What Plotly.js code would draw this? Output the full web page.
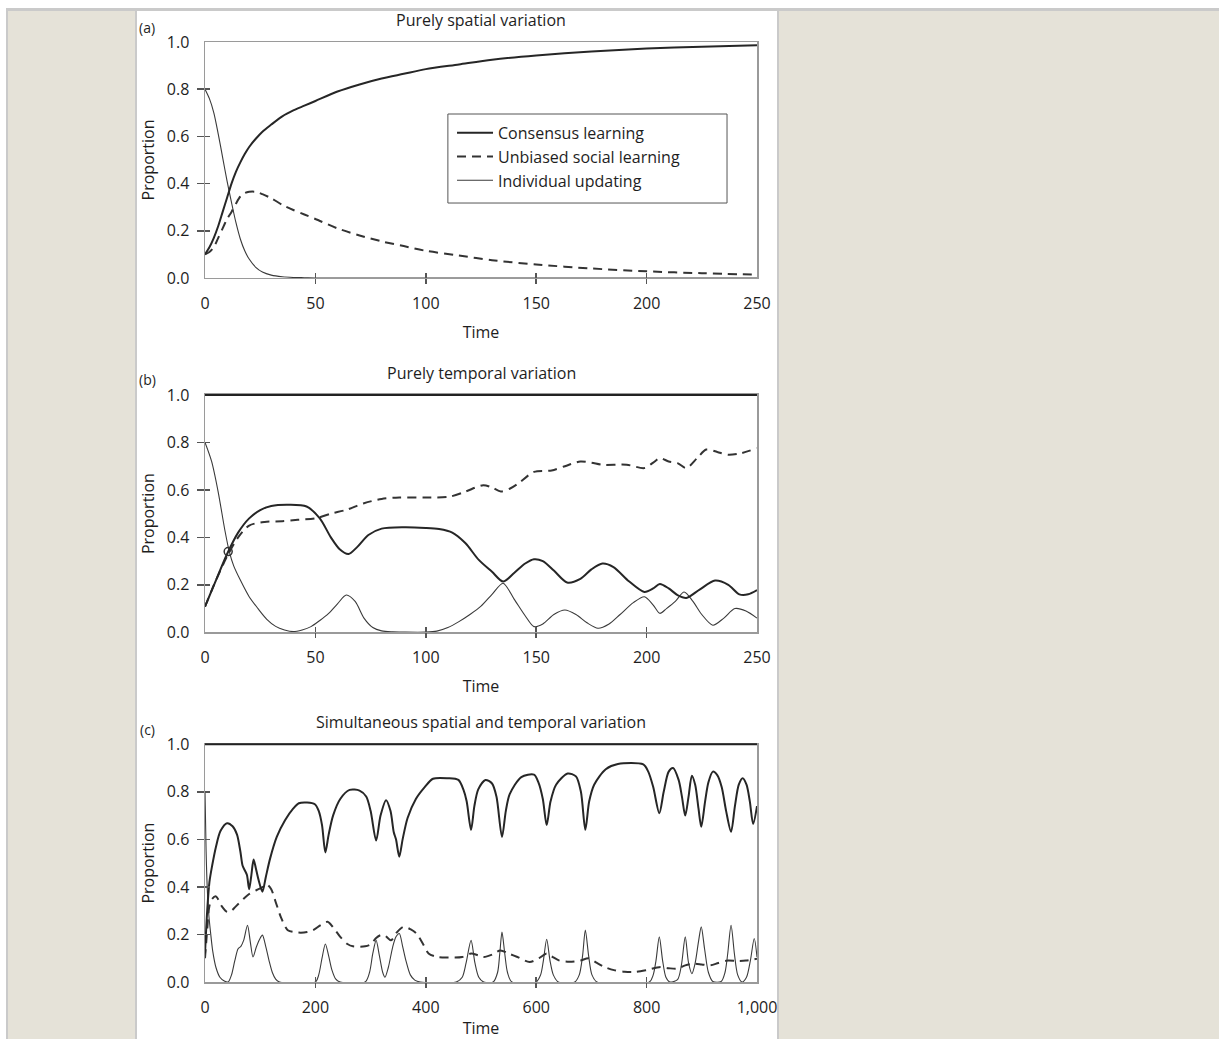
<!DOCTYPE html>
<html><head><meta charset="utf-8">
<script src="https://cdn.plot.ly/plotly-3.0.1.min.js"></script>
<style>
html,body{margin:0;padding:0;background:#fff;width:1219px;height:1039px;overflow:hidden;}
#bg{position:absolute;left:6px;top:8px;width:1213px;height:1031px;box-sizing:border-box;border-top:3px solid #cacaca;border-left:2px solid #cacaca;background:#e5e2d8;}
#panel{position:absolute;left:135px;top:11px;width:644px;height:1028px;box-sizing:border-box;border-left:2px solid #cacaca;border-right:2px solid #cacaca;background:#fff;}
#chart{position:absolute;left:137px;top:0px;width:700px;height:1039px;}
</style></head><body>
<div id="bg"></div><div id="panel"></div><div id="chart"></div>
<script>
// ---------- Data ----------
const seriesNames = ['Consensus learning', 'Unbiased social learning', 'Individual updating'];
const panelTitles = ['Purely spatial variation', 'Purely temporal variation', 'Simultaneous spatial and temporal variation'];
const panelLabels = ['(a)', '(b)', '(c)'];

// (a) Purely spatial variation
const tA = [0,2,4,6,8,10,12,14,16,18,20,23,26,30,35,40,45,50,60,70,80,90,100,115,130,150,175,200,225,250];
const consA = [0.10,0.13,0.17,0.22,0.28,0.34,0.40,0.45,0.49,0.525,0.555,0.59,0.62,0.65,0.685,0.71,0.73,0.75,0.79,0.82,0.845,0.865,0.885,0.905,0.925,0.943,0.96,0.972,0.98,0.986];
const unbA = [0.10,0.11,0.13,0.17,0.21,0.25,0.28,0.315,0.345,0.36,0.365,0.365,0.355,0.338,0.31,0.288,0.269,0.25,0.21,0.18,0.155,0.135,0.115,0.095,0.075,0.057,0.04,0.028,0.02,0.014];
const indA = [0.80,0.76,0.70,0.61,0.51,0.41,0.32,0.235,0.165,0.115,0.08,0.045,0.025,0.012,0.005,0.002,0.001,0,0,0,0,0,0,0,0,0,0,0,0,0];

// (b) Purely temporal variation
const tConsB = [0,5,10,15,20,25,30,38,46,52,57,61,65,69,74,80,90,100,106,112,118,124,130,135,140,145,149,153,158,164,170,175,180,185,192,199,203,206,210,214,218,224,231,237,242,246,250];
const consB = [0.108,0.22,0.33,0.42,0.48,0.515,0.532,0.537,0.53,0.48,0.40,0.35,0.33,0.36,0.41,0.437,0.443,0.44,0.435,0.42,0.375,0.305,0.255,0.214,0.25,0.29,0.308,0.30,0.26,0.21,0.225,0.265,0.29,0.275,0.215,0.17,0.185,0.204,0.185,0.157,0.145,0.18,0.218,0.20,0.16,0.16,0.178];
const tUnbB = [0,5,10,15,20,27,35,42,50,57,64,72,80,88,100,111,118,126,130,134,138,142,149,157,163,170,175,180,191,199,203,206,210,214,218,223,227,232,237,243,250];
const unbB = [0.108,0.22,0.32,0.40,0.45,0.465,0.468,0.474,0.48,0.50,0.516,0.544,0.562,0.568,0.568,0.572,0.593,0.62,0.61,0.593,0.605,0.628,0.676,0.682,0.70,0.72,0.715,0.706,0.706,0.692,0.715,0.734,0.72,0.713,0.692,0.735,0.77,0.76,0.748,0.755,0.776];
const tIndB = [0,3,6,9,11,13,16,20,24,28,32,36,40,44,48,52,56,60,64,68,72,76,80,85,90,100,105,110,115,120,125,130,135,140,145,149,153,158,163,168,173,178,183,188,194,199,203,206,209,213,217,221,225,230,235,240,245,250];
const indB = [0.80,0.72,0.59,0.43,0.34,0.28,0.22,0.15,0.10,0.055,0.025,0.01,0.003,0.01,0.024,0.05,0.08,0.12,0.157,0.13,0.06,0.02,0.006,0.002,0.001,0.001,0.005,0.02,0.045,0.075,0.11,0.16,0.207,0.14,0.07,0.024,0.035,0.075,0.094,0.075,0.04,0.017,0.035,0.075,0.125,0.15,0.115,0.08,0.1,0.13,0.17,0.13,0.075,0.03,0.06,0.10,0.09,0.06];
const markTB = [10.5];
const markVB = [0.34];

// (c) Simultaneous spatial and temporal variation
const tConsC = [0,4,8,13,20,28,40,50,58,64,68,72,76,80,84,88,92,97,104,110,118,130,145,160,170,185,199,206,212,218,224,232,245,262,280,292,300,310,318,328,336,342,346,352,358,367,382,398,413,440,459,468,474,482,488,495,508,520,528,538,545,552,573,596,604,612,619,626,636,657,672,681,689,696,705,726,748,794,803,812,823,831,840,848,858,864,870,876,882,888,894,899,906,912,920,928,936,944,953,960,967,974,981,987,993,1000];
const consC = [0.12,0.30,0.42,0.49,0.57,0.635,0.668,0.655,0.62,0.55,0.49,0.47,0.45,0.39,0.45,0.515,0.48,0.43,0.38,0.44,0.52,0.61,0.68,0.73,0.752,0.755,0.748,0.72,0.66,0.545,0.62,0.70,0.77,0.808,0.805,0.78,0.72,0.595,0.70,0.765,0.72,0.63,0.60,0.527,0.60,0.69,0.77,0.82,0.855,0.857,0.85,0.81,0.76,0.64,0.74,0.81,0.85,0.835,0.78,0.61,0.72,0.79,0.862,0.872,0.84,0.77,0.66,0.76,0.83,0.877,0.865,0.80,0.64,0.76,0.83,0.895,0.917,0.915,0.885,0.82,0.71,0.80,0.885,0.90,0.85,0.78,0.70,0.78,0.868,0.83,0.73,0.653,0.76,0.84,0.885,0.87,0.82,0.72,0.632,0.74,0.83,0.857,0.83,0.76,0.665,0.74];
const tUnbC = [0,4,8,13,20,30,40,48,55,70,80,93,105,112,120,127,138,150,169,185,196,210,222,232,245,258,268,290,300,310,318,326,337,348,360,372,383,395,405,421,440,466,482,495,505,520,535,550,566,588,605,619,630,642,660,680,695,710,725,741,760,779,800,825,840,855,870,885,900,916,930,947,965,980,1000];
const unbC = [0.10,0.22,0.32,0.35,0.36,0.32,0.295,0.30,0.316,0.35,0.37,0.386,0.40,0.41,0.39,0.344,0.27,0.218,0.208,0.21,0.218,0.24,0.253,0.23,0.19,0.16,0.15,0.15,0.158,0.185,0.197,0.195,0.176,0.21,0.232,0.222,0.204,0.16,0.12,0.105,0.103,0.105,0.12,0.112,0.105,0.115,0.133,0.12,0.105,0.084,0.10,0.12,0.105,0.09,0.085,0.09,0.10,0.08,0.062,0.05,0.043,0.042,0.05,0.063,0.058,0.056,0.07,0.077,0.074,0.07,0.08,0.09,0.088,0.09,0.098];
const tIndC = [0,2,4,7,10,14,20,27,35,42,48,54,60,65,70,77,82,87,93,99,104,110,116,122,128,135,200,206,212,218,224,230,237,245,290,298,304,310,316,322,326,332,340,346,352,358,364,372,380,390,455,466,473,482,489,496,505,522,530,534,538,543,548,556,600,608,613,619,625,631,640,670,678,684,689,695,701,710,805,812,817,823,829,835,842,856,863,870,876,882,888,894,899,905,912,920,935,942,947,953,959,965,973,981,988,995,1000];
const indC = [0.80,0.55,0.40,0.28,0.21,0.13,0.06,0.02,0.004,0,0.03,0.09,0.14,0.15,0.175,0.239,0.17,0.105,0.147,0.18,0.197,0.15,0.09,0.04,0.012,0,0,0.03,0.10,0.16,0.11,0.05,0.012,0,0,0.04,0.12,0.175,0.11,0.04,0.02,0.06,0.147,0.19,0.204,0.15,0.09,0.03,0.008,0,0,0.02,0.08,0.175,0.08,0.02,0,0,0.04,0.12,0.21,0.12,0.04,0,0,0.03,0.09,0.18,0.09,0.03,0,0,0.03,0.11,0.218,0.11,0.03,0,0,0.03,0.09,0.19,0.09,0.02,0,0.01,0.07,0.19,0.08,0.035,0.08,0.17,0.232,0.14,0.04,0.002,0.002,0.04,0.12,0.239,0.12,0.03,0,0.02,0.09,0.183,0.105];

const yTickVals = [0, 0.2, 0.4, 0.6, 0.8, 1.0];
const yInnerTicks = [0.2, 0.4, 0.6, 0.8];
const xTickValsAB = [0, 50, 100, 150, 200, 250];
const xInnerTicksAB = [50, 100, 150, 200];
const xTickValsC = [0, 200, 400, 600, 800, 1000];
const xTickTextC = ['0', '200', '400', '600', '800', '1,000'];
const xInnerTicksC = [200, 400, 600, 800];

// ---------- Styling ----------
const FONT = '"Open Sans", "Liberation Sans", sans-serif';
const TXT = '#1e1e1e';
const st = {
  cons: {color: '#262626', width: 2},
  unb: {color: '#333333', width: 2, dash: '9px,6px'},
  ind: {color: '#3a3a3a', width: 1.1}
};
function tr(x, y, name, s, xa, ya, show, rank) {
  return {type: 'scatter', mode: 'lines', x: x, y: y, name: name, xaxis: xa, yaxis: ya,
    showlegend: show, legendrank: rank, hoverinfo: 'skip',
    line: Object.assign({shape: 'spline', smoothing: 0.8}, s)};
}

const data = [
  tr(tA, indA, seriesNames[2], st.ind, 'x', 'y', true, 3),
  tr(tA, unbA, seriesNames[1], st.unb, 'x', 'y', true, 2),
  tr(tA, consA, seriesNames[0], st.cons, 'x', 'y', true, 1),
  tr(tIndB, indB, seriesNames[2], st.ind, 'x2', 'y2', false, 3),
  tr(tUnbB, unbB, seriesNames[1], st.unb, 'x2', 'y2', false, 2),
  tr(tConsB, consB, seriesNames[0], st.cons, 'x2', 'y2', false, 1),
  {type: 'scatter', mode: 'markers', x: markTB, y: markVB, xaxis: 'x2', yaxis: 'y2', showlegend: false, hoverinfo: 'skip',
    marker: {symbol: 'circle-open', size: 8, color: '#333', line: {width: 1.5, color: '#333'}}},
  tr(tIndC, indC, seriesNames[2], st.ind, 'x3', 'y3', false, 3),
  tr(tUnbC, unbC, seriesNames[1], st.unb, 'x3', 'y3', false, 2),
  tr(tConsC, consC, seriesNames[0], st.cons, 'x3', 'y3', false, 1)
];

const domains = [[0.749, 1], [0.372, 0.6245], [0, 0.2529]];
const xRanges = [[0, 250], [0, 250], [0, 1000]];
const FRAME = '#9a9a9a';
const TICKC = '#555';

const layout = {
  width: 700, height: 1039,
  margin: {l: 68, r: 80, t: 42, b: 57},
  paper_bgcolor: 'rgba(0,0,0,0)', plot_bgcolor: '#fff',
  font: {family: FONT, color: TXT, size: 16},
  showlegend: true,
  legend: {x: 0.4475, y: 0.9215, xanchor: 'left', yanchor: 'top', bgcolor: 'rgba(0,0,0,0)',
    borderwidth: 0, font: {family: FONT, size: 16, color: TXT},
    itemwidth: 36, traceorder: 'normal'},
  annotations: [],
  // legend frame (decoration only)
  shapes: [{type: 'rect', xref: 'paper', yref: 'paper', x0: 0.44, x1: 0.9457, y0: 0.8287, y1: 0.9234,
    fillcolor: '#fff', line: {color: '#555', width: 1}, layer: 'above'}]
};

for (let i = 0; i < 3; i++) {
  const s = i === 0 ? '' : String(i + 1);
  const xId = 'x' + s, yId = 'y' + s;
  const isC = i === 2;
  layout['xaxis' + s] = {
    domain: [0, 1], anchor: yId, range: xRanges[i],
    tickvals: isC ? xTickValsC : xTickValsAB,
    ticktext: isC ? xTickTextC : xTickValsAB.map(String),
    ticks: '', ticklabelstandoff: 10, ticklabeloverflow: 'allow', tickfont: {size: 16, color: TXT},
    showline: true, mirror: true, linecolor: FRAME, linewidth: 1.5,
    showgrid: false, zeroline: false,
    title: {text: 'Time', font: {size: 16, color: TXT}, standoff: 14}
  };
  layout['yaxis' + s] = {
    domain: domains[i], anchor: xId, range: [0, 1],
    tickvals: yTickVals, tickformat: '.1f',
    ticks: '', ticklabelstandoff: 11, tickfont: {size: 16, color: TXT},
    showline: true, mirror: true, linecolor: FRAME, linewidth: 1.5,
    showgrid: false, zeroline: false,
    title: {text: 'Proportion', font: {size: 16, color: TXT}, standoff: 8}
  };
  // tick overlays: crossing ticks (outside + inside)
  const base = 4 + 2 * i;
  ['outside', 'inside'].forEach((dir, k) => {
    const n = base + k;
    layout['xaxis' + n] = {
      overlaying: xId, anchor: yId, side: 'bottom', range: xRanges[i],
      tickvals: isC ? xInnerTicksC : xInnerTicksAB, ticks: dir, ticklen: 5, tickwidth: 1.5, tickcolor: TICKC,
      showticklabels: false, showline: false, showgrid: false, zeroline: false
    };
    layout['yaxis' + n] = {
      overlaying: yId, anchor: xId, side: 'left', range: [0, 1],
      tickvals: yInnerTicks, ticks: dir, ticklen: dir === 'outside' ? 7 : 5, tickwidth: 1.5, tickcolor: TICKC,
      showticklabels: false, showline: false, showgrid: false, zeroline: false
    };
    // empty carrier trace so the overlay axes are registered and drawn
    data.push({type: 'scatter', mode: 'lines', x: [], y: [], xaxis: 'x' + n, yaxis: 'y' + n,
      showlegend: false, hoverinfo: 'skip'});
  });
  layout.annotations.push({
    text: panelTitles[i], xref: 'paper', yref: 'paper', x: 0.5, y: domains[i][1],
    xanchor: 'center', yanchor: 'middle', yshift: 22, showarrow: false,
    font: {family: FONT, size: 16, color: TXT}
  });
  layout.annotations.push({
    text: panelLabels[i], xref: 'paper', yref: 'paper', x: -0.105, y: domains[i][1],
    xanchor: 'center', yanchor: 'middle', yshift: 15, showarrow: false,
    font: {family: FONT, size: 14, color: TXT}
  });
  if (i > 0) {
    layout.shapes.push({type: 'line', xref: xId + ' domain', yref: yId + ' domain',
      x0: 0, x1: 1, y0: 1, y1: 1, line: {color: '#222', width: 2}});
  }
}

Plotly.newPlot('chart', data, layout, {staticPlot: true, displayModeBar: false});
</script></body></html>
